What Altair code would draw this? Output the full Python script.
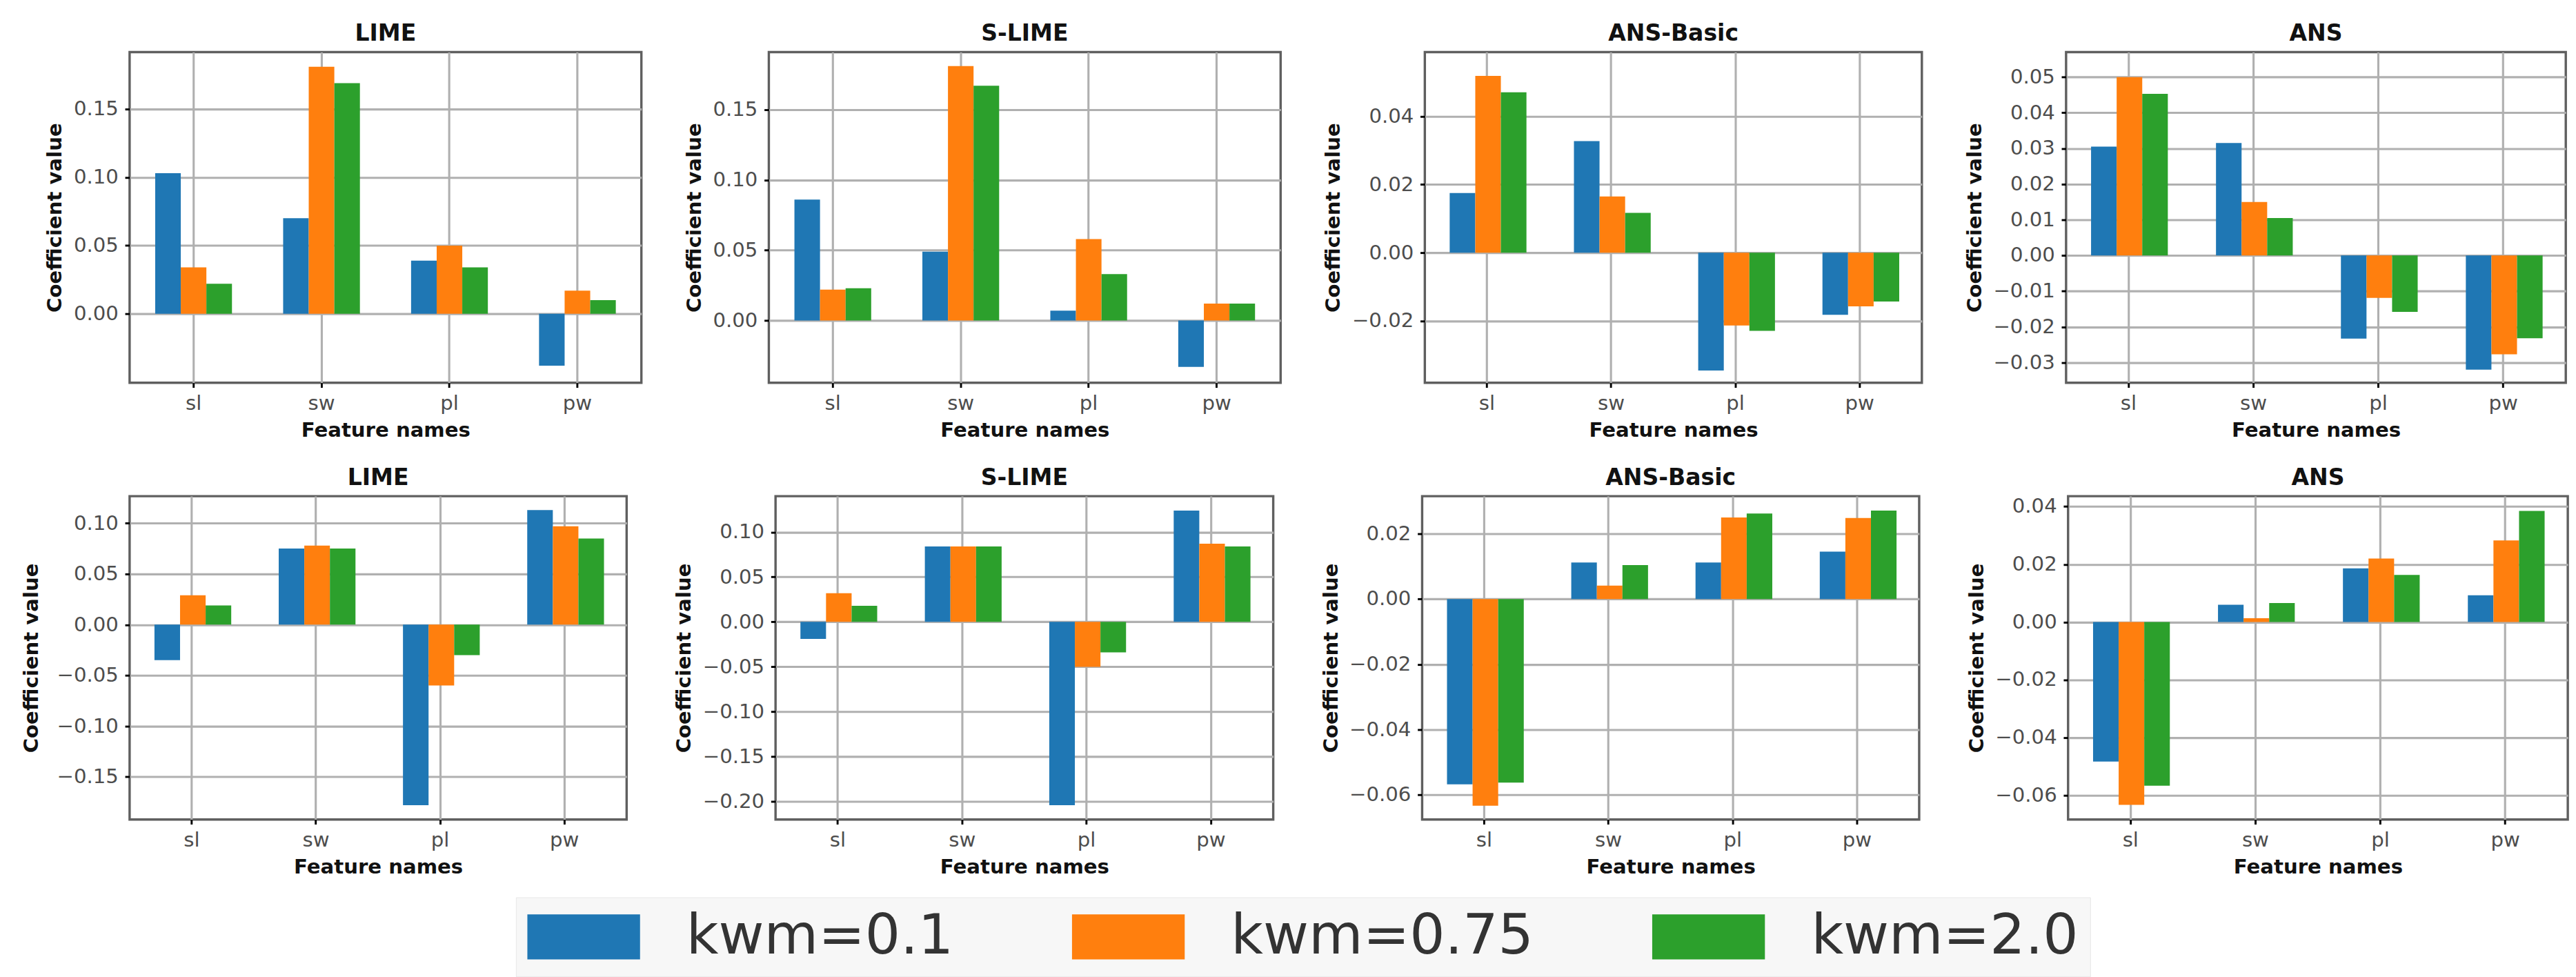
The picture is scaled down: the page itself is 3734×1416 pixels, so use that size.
import altair as alt
import pandas as pd

features = ["sl", "sw", "pl", "pw"]
kwm_labels = ["kwm=0.1", "kwm=0.75", "kwm=2.0"]
colors = ["#1f77b4", "#ff7f0e", "#2ca02c"]

# values per kwm (rows) and feature (columns: sl, sw, pl, pw)
top_lime = [[0.103, 0.070, 0.039, -0.038], [0.034, 0.181, 0.050, 0.017], [0.022, 0.169, 0.034, 0.010]]
top_slime = [[0.086, 0.049, 0.007, -0.033], [0.022, 0.181, 0.058, 0.012], [0.023, 0.167, 0.033, 0.012]]
top_ansb = [[0.0175, 0.0327, -0.0345, -0.0182], [0.0518, 0.0165, -0.0213, -0.0157], [0.0470, 0.0117, -0.0229, -0.0143]]
top_ans = [[0.0305, 0.0315, -0.0233, -0.0320], [0.0500, 0.0150, -0.0119, -0.0277], [0.0453, 0.0105, -0.0158, -0.0232]]

bot_lime = [[-0.035, 0.075, -0.178, 0.113], [0.029, 0.078, -0.060, 0.097], [0.019, 0.075, -0.030, 0.085]]
bot_slime = [[-0.019, 0.084, -0.204, 0.124], [0.032, 0.084, -0.050, 0.087], [0.018, 0.084, -0.034, 0.084]]
bot_ansb = [[-0.0567, 0.0112, 0.0112, 0.0145], [-0.0633, 0.0041, 0.0250, 0.0248], [-0.0562, 0.0104, 0.0262, 0.0271]]
bot_ans = [[-0.0483, 0.0060, 0.0186, 0.0093], [-0.0633, 0.0013, 0.0220, 0.0283], [-0.0567, 0.0066, 0.0163, 0.0385]]

top_domains = [[-0.0505, 0.1917], [-0.0443, 0.191], [-0.0381, 0.0588], [-0.0357, 0.0570]]
bot_domains = [[-0.1921, 0.1267], [-0.220, 0.140], [-0.0675, 0.0315], [-0.0684, 0.0436]]
top_ticks = [[0.0, 0.05, 0.10, 0.15], [0.0, 0.05, 0.10, 0.15], [-0.02, 0.0, 0.02, 0.04],
             [-0.03, -0.02, -0.01, 0.0, 0.01, 0.02, 0.03, 0.04, 0.05]]
bot_ticks = [[-0.15, -0.10, -0.05, 0.0, 0.05, 0.10], [-0.20, -0.15, -0.10, -0.05, 0.0, 0.05, 0.10],
             [-0.06, -0.04, -0.02, 0.0, 0.02], [-0.06, -0.04, -0.02, 0.0, 0.02, 0.04]]
titles = ["LIME", "S-LIME", "ANS-Basic", "ANS"]

legend = alt.Legend(
    orient="none", legendX=576, legendY=1260, direction="horizontal", title=None,
    symbolType="M-2,-0.8H2V0.8H-2Z", symbolSize=7056, symbolOffset=42,
    symbolStrokeWidth=0, symbolOpacity=1,
    labelFont="DejaVu Sans", labelFontSize=83, labelColor="#333333", labelOffset=111,
    labelLimit=1000, columnPadding=176, padding=17, fillColor="#f7f7f7", strokeColor="#e6e6e6",
)


def panel(title, values, domain, ticks, width, height, ytitle_pad=12):
    rows = []
    for k, vals in zip(kwm_labels, values):
        for f, v in zip(features, vals):
            rows.append({"feature": f, "kwm": k, "value": v})
    df = pd.DataFrame(rows)
    return alt.Chart(df).mark_bar().encode(
        x=alt.X("feature:N", sort=features,
                scale=alt.Scale(paddingInner=0.4, paddingOuter=0.2),
                axis=alt.Axis(title="Feature names", labelAngle=0, bandPosition=0.5, grid=True,
                              labelPadding=9, titlePadding=10)),
        xOffset=alt.XOffset("kwm:N", sort=kwm_labels,
                            scale=alt.Scale(paddingInner=0, paddingOuter=0)),
        y=alt.Y("value:Q", scale=alt.Scale(domain=domain, nice=False, zero=False),
                axis=alt.Axis(values=ticks, format=".2f", title="Coefficient value",
                              labelPadding=10, titlePadding=ytitle_pad)),
        color=alt.Color("kwm:N", sort=kwm_labels,
                        scale=alt.Scale(domain=kwm_labels, range=colors), legend=legend),
    ).properties(width=width, height=height,
                 title=alt.TitleParams(title, offset=10))


top_vals = [top_lime, top_slime, top_ansb, top_ans]
bot_vals = [bot_lime, bot_slime, bot_ansb, bot_ans]
top_w = [763, 763, 741, 745]
bot_w = [741, 742, 741, 745]
bot_pad = [22, 12, 12, 12]

row1 = alt.hconcat(*[panel(titles[i], top_vals[i], top_domains[i], top_ticks[i], top_w[i], 493)
                     for i in range(4)], spacing=60).resolve_scale(y="independent")
row2 = alt.hconcat(*[panel(titles[i], bot_vals[i], bot_domains[i], bot_ticks[i], bot_w[i], 482, bot_pad[i])
                     for i in range(4)], spacing=67).resolve_scale(y="independent")

chart = alt.concat(row1, row2, columns=1, align="none", spacing=35).resolve_scale(
    y="independent", color="shared"
).properties(
    padding={"left": 22, "top": 3, "right": 2, "bottom": 2}
).configure_view(
    stroke="#5f5f5f", strokeWidth=3.5
).configure_axis(
    labelFont="DejaVu Sans", labelFontSize=30, labelColor="#4d4d4d",
    titleFont="DejaVu Sans", titleFontSize=30, titleFontWeight="bold", titleColor="#111111",
    gridColor="#b0b0b0", gridWidth=3.2, gridOpacity=1,
    tickColor="#000000", tickWidth=3, tickSize=7, domain=False, zindex=1,
).configure_title(
    font="DejaVu Sans", fontSize=34, fontWeight="bold", color="#111111", anchor="middle"
)

chart.save("out.html", embed_options={"renderer": "svg", "actions": False})
